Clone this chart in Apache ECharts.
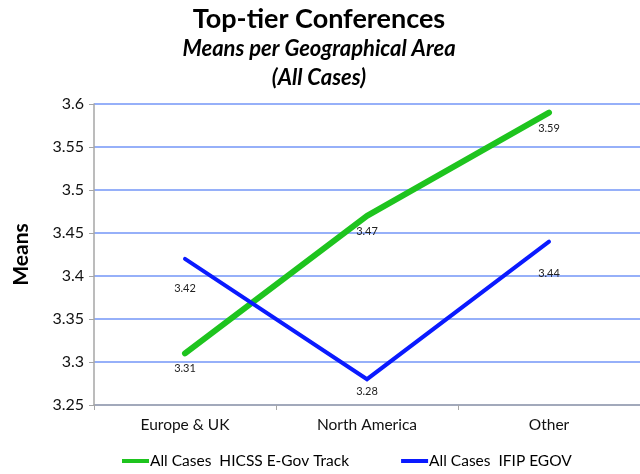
<!DOCTYPE html>
<html>
<head>
<meta charset="utf-8">
<script src="https://cdn.jsdelivr.net/npm/echarts@6/dist/echarts.min.js"></script>
<style>
  html, body { margin: 0; padding: 0; background: #fff; }
  #chart { width: 640px; height: 474px; }
</style>
</head>
<body>
<div id="chart"></div>
<script>
const regions = ['Europe & UK', 'North America', 'Other']
const hicssName = 'All Cases  HICSS E-Gov Track'
const ifipName = 'All Cases  IFIP EGOV'
const hicssMeans = [3.31, 3.47, 3.59]
const ifipMeans = [3.42, 3.28, 3.44]

const FONT = 'Lato'
const chart = echarts.init(document.getElementById('chart'))

// label distance under each point, as in the original
const ifipLabelGap = [24, 7, 26]

const option = {
  animation: false,
  textStyle: { fontFamily: FONT },
  title: [
    {
      text: 'Top-tier Conferences',
      left: 314, top: 1, textAlign: 'center',
      textStyle: { fontSize: 27, fontWeight: 'bold', color: '#000', fontFamily: FONT }
    },
    {
      text: 'Means per Geographical Area',
      left: 314, top: 33, textAlign: 'center',
      textStyle: { fontSize: 22, fontWeight: 'bold', fontStyle: 'italic', color: '#000', fontFamily: FONT }
    },
    {
      text: '(All Cases)',
      left: 314, top: 62, textAlign: 'center',
      textStyle: { fontSize: 22, fontWeight: 'bold', fontStyle: 'italic', color: '#000', fontFamily: FONT }
    }
  ],
  legend: {
    left: 122, top: 453, padding: 0,
    itemWidth: 27, itemHeight: 4, itemGap: 52,
    icon: 'rect',
    textStyle: { fontSize: 15.5, color: '#000', padding: [0, 0, 0, -4] },
    data: [hicssName, ifipName]
  },
  grid: { left: 94, right: -3, top: 104, bottom: 69 },
  xAxis: {
    type: 'category',
    data: regions,
    axisLine: { lineStyle: { color: '#a6a6a6', width: 1.5 } },
    axisTick: { show: true, length: 5, lineStyle: { color: '#a6a6a6' } },
    axisLabel: { fontSize: 15.5, color: '#111', margin: 12 }
  },
  yAxis: {
    type: 'value',
    min: 3.25, max: 3.6, interval: 0.05,
    name: 'Means',
    nameLocation: 'middle',
    nameGap: 62,
    nameRotate: 90,
    nameTextStyle: { fontSize: 21, fontWeight: 'bold', color: '#000' },
    axisLine: { show: true, lineStyle: { color: '#a6a6a6', width: 1.5 } },
    axisTick: { show: true, length: 5, lineStyle: { color: '#a6a6a6' } },
    axisLabel: {
      fontSize: 16, color: '#111', margin: 10,
      formatter: v => String(parseFloat(v.toFixed(2)))
    },
    splitLine: { lineStyle: { color: '#7396f7', width: 1.5 } }
  },
  series: [
    {
      name: hicssName,
      type: 'line',
      data: hicssMeans,
      symbol: 'circle',
      symbolSize: 0,
      color: '#1ec41e',
      lineStyle: { width: 6, cap: 'round', join: 'round' },
      label: {
        show: true, position: 'bottom', distance: 10,
        fontSize: 11, color: '#222'
      }
    },
    {
      name: ifipName,
      type: 'line',
      data: ifipMeans.map((v, i) => ({ value: v, label: { distance: ifipLabelGap[i] } })),
      symbol: 'circle',
      symbolSize: 0,
      color: '#0a1aff',
      lineStyle: { width: 4, cap: 'round', join: 'miter' },
      label: {
        show: true, position: 'bottom',
        fontSize: 11, color: '#222'
      }
    }
  ]
}

chart.setOption(option)
</script>
</body>
</html>
